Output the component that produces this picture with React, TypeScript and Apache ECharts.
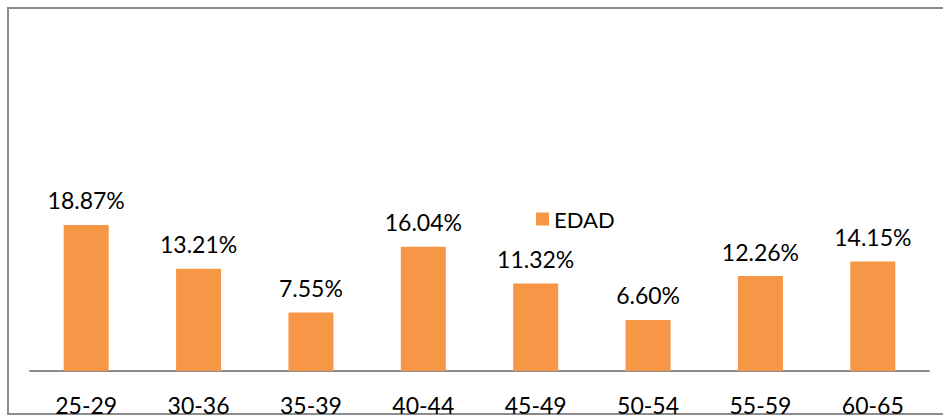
import React, { useEffect, useRef } from "react";
import * as echarts from "echarts";

const categories = ["25-29", "30-36", "35-39", "40-44", "45-49", "50-54", "55-59", "60-65"];
const edadValues = [18.87, 13.21, 7.55, 16.04, 11.32, 6.6, 12.26, 14.15];
const seriesName = "EDAD";

const FONT = "Lato, 'Noto Sans', sans-serif";
const FONT_SIZE = 23;

export default function App() {
  const ref = useRef<HTMLDivElement>(null);

  useEffect(() => {
    if (!ref.current) return;
    const chart = echarts.init(ref.current, null, { renderer: "svg" });
    const yMax = 25;
    const axisY = 371;
    const pxPerUnit = 7.74;
    const top = axisY - yMax * pxPerUnit;
    chart.setOption({
      animation: false,
      backgroundColor: "#ffffff",
      textStyle: { fontFamily: FONT },
      graphic: [
        {
          type: "rect",
          shape: { x: 8, y: 8, width: 960, height: 406 },
          style: { fill: "none", stroke: "#8c8c8c", lineWidth: 2 },
          silent: true,
        },
      ],
      legend: {
        data: [seriesName],
        left: 531,
        top: 203,
        itemWidth: 13,
        itemHeight: 13,
        itemGap: 10,
        icon: "rect",
        textStyle: { fontSize: FONT_SIZE - 1, color: "#000", fontFamily: FONT },
      },
      grid: { left: 30, right: 14, top, bottom: 416 - axisY, containLabel: false },
      xAxis: {
        type: "category",
        data: categories,
        axisLine: { lineStyle: { color: "#8c8c8c", width: 2 } },
        axisTick: { show: false },
        axisLabel: { fontSize: FONT_SIZE, color: "#000", margin: 22, fontFamily: FONT },
      },
      yAxis: { type: "value", min: 0, max: yMax, show: false, splitLine: { show: false } },
      series: [
        {
          name: seriesName,
          type: "bar",
          data: edadValues,
          barWidth: 45,
          itemStyle: { color: "#F79646" },
          label: {
            show: true,
            position: "top",
            distance: 13,
            fontSize: FONT_SIZE,
            color: "#000",
            fontFamily: FONT,
            formatter: (p: any) => Number(p.value).toFixed(2) + "%",
          },
        },
      ],
    });
    return () => chart.dispose();
  }, []);

  return (
    <div
      ref={ref}
      style={{ position: "fixed", left: 0, top: 0, width: 943, height: 416 }}
    />
  );
}
